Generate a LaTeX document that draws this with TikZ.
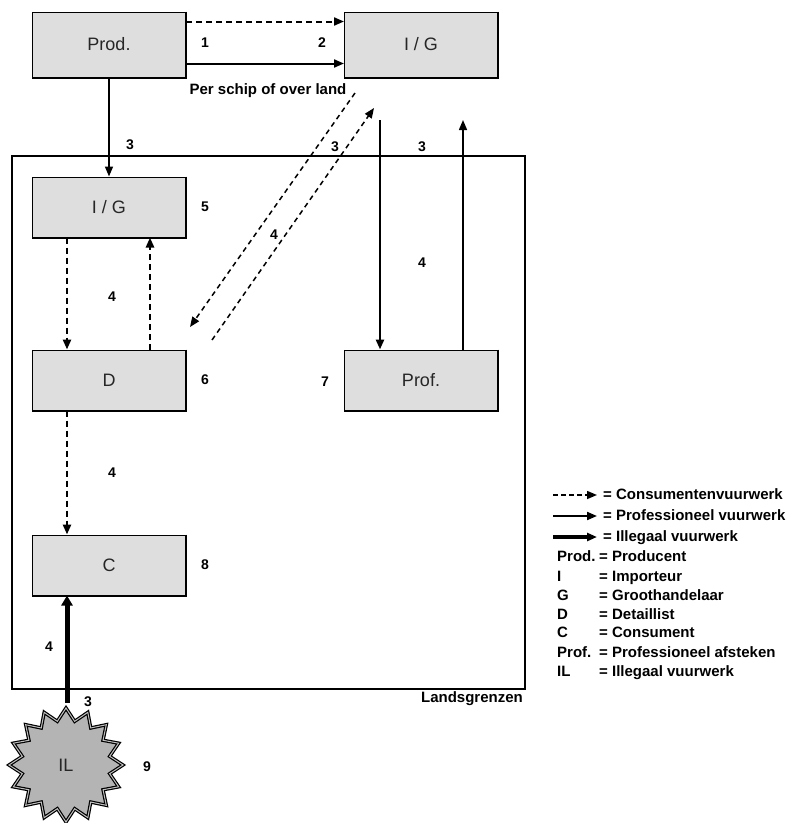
\documentclass[tikz,border=0pt]{standalone}
\usepackage{fontspec}
\setmainfont{Liberation Sans}
\usetikzlibrary{arrows.meta,shapes.geometric,calc}
\definecolor{boxgray}{RGB}{222,222,222}
\definecolor{stargray}{RGB}{180,180,180}
\begin{document}
\begin{tikzpicture}[x=1pt,y=-1pt,
  box/.style={draw=black,line width=1pt,fill=boxgray,minimum width=153pt,minimum height=60pt,inner sep=0pt,font=\fontsize{18}{20}\selectfont,text=black!85},
  tallbox/.style={box,minimum height=65pt},
  num/.style={font=\bfseries\fontsize{14}{16}\selectfont,inner sep=0pt},
  leg/.style={font=\bfseries\fontsize{15}{17}\selectfont,inner sep=0pt,anchor=west,text height=11pt,text depth=3pt},
  tipA/.style={-{Triangle[length=10pt,width=8pt]}},
  consumthick/.style={tipA,dash pattern=on 6pt off 4pt,line width=2.5pt},
  consumthin/.style={tipA,dash pattern=on 6pt off 4pt,line width=2pt},
  diag/.style={tipA,dash pattern=on 5pt off 4pt,line width=1.5pt},
  prof/.style={tipA,line width=2pt},
  illegal/.style={-{Triangle[length=10pt,width=11pt]},line width=5pt},
]
\useasboundingbox (0,0) rectangle (791,823);

% country border
\node[draw=black,line width=1.5pt,minimum width=513pt,minimum height=533pt,inner sep=0pt] (border) at (268.5,422.5) {};
\node[leg,anchor=east] (lands) at (523,698) {Landsgrenzen};

% boxes
\node[tallbox] (prod) at (109,44.5) {Prod.};
\node[tallbox] (igt) at (421,44.5) {I / G};
\node[box] (igi) at (109,207) {I / G};
\node[box] (d) at (109,380) {D};
\node[box] (c) at (109,565) {C};
\node[box] (pf) at (421,380) {Prof.};
\foreach \n in {prod,igt,igi,d,c,pf}
  \draw[line width=2pt] (\n.north east) -- (\n.south east) -- (\n.south west);

% star
\node[star,star points=16,star point ratio=1.28,minimum size=114pt,inner sep=0pt,
      fill=stargray,draw=black,line width=1.2pt,double=white!75!black,double distance=1pt,
      font=\fontsize{18}{20}\selectfont,text=black!85] (il) at (66,765) {IL};

% top arrows
\draw[consumthin] ([yshift=-10pt]prod.north east) -- ([yshift=-10pt]igt.north west);
\draw[prof] ([yshift=14pt]prod.south east) -- ([yshift=14pt]igt.south west);
\node[num] (n1) at (205,43) {1};
\node[num] (n2) at (322,43) {2};
\node[font=\bfseries\fontsize{15}{17}\selectfont,inner sep=0pt] (schip) at (268,91) {Per schip of over land};

% prod to inner I/G
\draw[prof,line width=1.5pt] (prod.south) -- (igi.north);
\node[num] (n3a) at (130,145) {3};

% inner I/G <-> D
\draw[consumthick] ([xshift=-42pt]igi.south) -- ([xshift=-42pt]d.north);
\draw[consumthick] ([xshift=41pt]d.north) -- ([xshift=41pt]igi.south);
\node[num] (n4a) at (112,297) {4};
\node[num] (n5) at (205,207) {5};
\node[num] (n6) at (205,380) {6};

% D to C
\draw[consumthick] ([xshift=-42pt]d.south) -- ([xshift=-42pt]c.north);
\node[num] (n4b) at (112,473) {4};
\node[num] (n8) at (205,565) {8};

% illegal
\draw[illegal] ([xshift=-42pt,yshift=4pt]c.south |- il.north) -- ([xshift=-42pt]c.south);
\node[num] (n4c) at (49,647) {4};
\node[num] (n3d) at (88,702) {3};
\node[num] (n9) at (147,767) {9};

% diagonals
\coordinate (d1a) at (355,93);
\coordinate (d1b) at (190,327);
\coordinate (d2a) at (212,340);
\coordinate (d2b) at (374,108);
\draw[diag] (d1a) -- (d1b);
\draw[diag] (d2a) -- (d2b);
\node[num] (n3b) at (335,147) {3};
\node[num] (n4d) at (274,235) {4};

% prof lines
\coordinate (pa) at (380,120);
\coordinate (pb) at (463,120);
\draw[prof,line width=2.5pt] (pa) -- ([xshift=-41pt]pf.north);
\draw[prof,line width=1.5pt] ([xshift=42pt]pf.north) -- (pb);
\node[num] (n3c) at (422,147) {3};
\node[num] (n4e) at (422,263) {4};
\node[num] (n7) at (325,382) {7};

% legend
\node[leg] (l1) at (603,495) {= Consumentenvuurwerk};
\node[leg] (l2) at (603,516) {= Professioneel vuurwerk};
\node[leg] (l3) at (603,537) {= Illegaal vuurwerk};
\draw[tipA,dash pattern=on 5pt off 3pt,line width=1.5pt] ([xshift=-50pt]l1.west) -- ([xshift=-6pt]l1.west);
\draw[tipA,line width=2pt] ([xshift=-50pt]l2.west) -- ([xshift=-6pt]l2.west);
\draw[tipA,line width=4pt] ([xshift=-50pt]l3.west) -- ([xshift=-6pt]l3.west);
\foreach \k/\t/\v/\y in {a/Prod./Producent/557, b/I/Importeur/577, c/G/Groothandelaar/596, d/D/Detaillist/615, e/C/Consument/633, f/Prof./Professioneel afsteken/653, g/IL/Illegaal vuurwerk/672}{
  \node[leg] (lk\k) at (557,\y) {\t};
  \node[leg] (lv\k) at (599,\y) {= \v};
}
\end{tikzpicture}
\end{document}
